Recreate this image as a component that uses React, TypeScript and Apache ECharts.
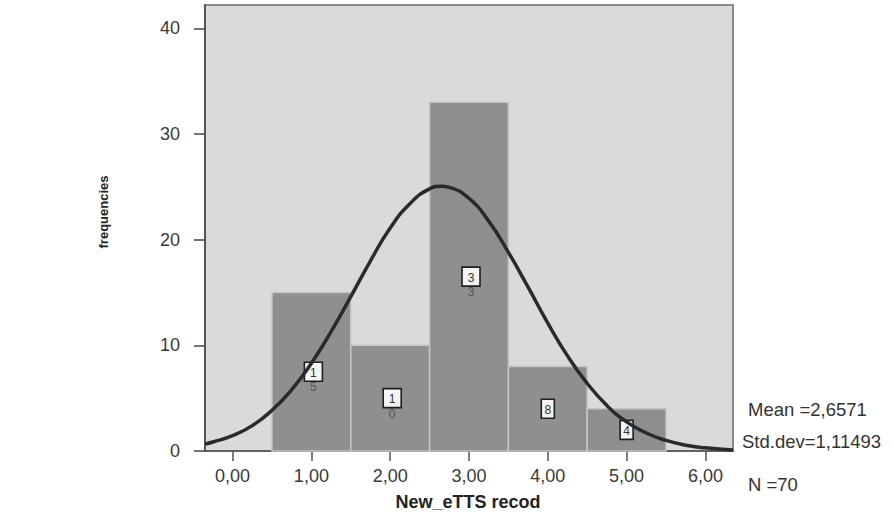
import React, { useEffect, useRef } from "react";
import * as echarts from "echarts";

const binCenters = [1, 2, 3, 4, 5];
const binCounts = [15, 10, 33, 8, 4];

const curveX = [-0.35, -0.25, 0, 0.25, 0.5, 0.75, 1, 1.25, 1.5, 1.75, 2, 2.25, 2.5, 2.65, 2.75, 3, 3.25, 3.5, 3.75, 4, 4.25, 4.5, 4.75, 5, 5.25, 5.5, 5.75, 6, 6.35];
const curveY = [0.65, 0.85, 1.45, 2.4, 3.85, 5.8, 8.3, 11.3, 14.6, 18.0, 21.1, 23.4, 24.8, 25.05, 24.95, 23.9, 21.75, 18.8, 15.5, 12.1, 9.0, 6.4, 4.3, 2.75, 1.7, 1.0, 0.55, 0.3, 0.1];

const xTicks = [0, 1, 2, 3, 4, 5, 6];
const yTicks = [0, 10, 20, 30, 40];

const statsLines = ["Mean =2,6571", "Std.dev=1,11493", "N =70"];
const xTitle = "New_eTTS recod";
const yTitle = "frequencies";

const FONT = "'Liberation Sans', Arial, sans-serif";

export default function App() {
  const ref = useRef<HTMLDivElement>(null);
  useEffect(() => {
    if (!ref.current) return;
    const chart = echarts.init(ref.current, null, { renderer: "svg" });
    const bars = binCenters.map((c, i) => [c, binCounts[i]]);
    const curve = curveX.map((x, i) => [x, curveY[i]]);
    chart.setOption({
      animation: false,
      grid: {
        left: 205,
        right: 160,
        top: 5,
        bottom: 62,
        show: true,
        backgroundColor: "#dadada",
        borderColor: "#8a8a8a",
        borderWidth: 2,
      },
      xAxis: {
        type: "value",
        min: -0.35,
        max: 6.35,
        splitLine: { show: false },
        axisLine: { show: true, onZero: false, lineStyle: { color: "#555", width: 1.5 } },
        axisTick: { show: true, length: 10, customValues: xTicks, lineStyle: { color: "#555", width: 1.5 } },
        axisLabel: {
          customValues: xTicks,
          formatter: (v: number) => v.toFixed(2).replace(".", ","),
          fontSize: 18,
          fontFamily: FONT,
          color: "#3a3a3a",
          margin: 16,
        },
      },
      yAxis: {
        type: "value",
        min: 0,
        max: 42.2,
        splitLine: { show: false },
        axisLine: { show: true, onZero: false, lineStyle: { color: "#555", width: 2 } },
        axisTick: { show: true, length: 11, customValues: yTicks, lineStyle: { color: "#444", width: 1.5 } },
        axisLabel: {
          customValues: yTicks,
          fontSize: 18,
          fontFamily: FONT,
          color: "#3a3a3a",
          margin: 25,
        },
      },
      series: [
        {
          type: "custom",
          z: 2,
          data: bars,
          renderItem: (params: any, api: any) => {
            const x = api.value(0);
            const v = api.value(1);
            const p0 = api.coord([x - 0.5, v]);
            const p1 = api.coord([x + 0.5, 0]);
            return {
              type: "rect",
              shape: { x: p0[0], y: p0[1], width: p1[0] - p0[0], height: p1[1] - p0[1] },
              style: { fill: "#8f8f8f", stroke: "#c6c6c6", lineWidth: 1.5 },
            };
          },
        },
        {
          type: "custom",
          z: 3,
          data: bars,
          renderItem: (params: any, api: any) => {
            const x = api.value(0);
            const v = api.value(1);
            const p = api.coord([x, v / 2]);
            const s = String(v);
            const first = s.charAt(0);
            const rest = s.slice(1);
            const w = rest ? 18 : 13;
            const h = 19;
            const cx = p[0] + (rest ? 2 : 0);
            const children: any[] = [
              {
                type: "rect",
                shape: { x: cx - w / 2, y: p[1] - h / 2, width: w, height: h },
                style: { fill: "#f4f4f4", stroke: "#1e1e1e", lineWidth: 1.6 },
              },
              {
                type: "text",
                x: cx,
                y: p[1] + 1,
                style: {
                  text: first,
                  fontSize: 12,
                  fontFamily: FONT,
                  fill: "#333",
                  align: "center",
                  verticalAlign: "middle",
                },
              },
            ];
            if (rest) {
              children.push({
                type: "text",
                x: cx,
                y: p[1] + h / 2 + 6,
                style: {
                  text: rest,
                  fontSize: 12,
                  fontFamily: FONT,
                  fill: "#555",
                  align: "center",
                  verticalAlign: "middle",
                },
              });
            }
            return { type: "group", children };
          },
        },
        {
          type: "line",
          z: 4,
          data: curve,
          smooth: true,
          showSymbol: false,
          symbol: "none",
          lineStyle: { color: "#2a2a2a", width: 3.5 },
        },
      ],
      graphic: [
        {
          type: "text",
          left: 748,
          top: 400,
          style: { text: statsLines[0], fontSize: 18.5, fontFamily: FONT, fill: "#333" },
        },
        {
          type: "text",
          left: 742,
          top: 432,
          style: { text: statsLines[1], fontSize: 18.5, fontFamily: FONT, fill: "#333" },
        },
        {
          type: "text",
          left: 748,
          top: 475,
          style: { text: statsLines[2], fontSize: 18.5, fontFamily: FONT, fill: "#333" },
        },
        {
          type: "text",
          x: 468,
          y: 502,
          style: {
            text: xTitle,
            fontSize: 18,
            fontWeight: "bold",
            fontFamily: FONT,
            fill: "#222",
            align: "center",
            verticalAlign: "middle",
          },
        },
        {
          type: "text",
          x: 103,
          y: 212,
          rotation: Math.PI / 2,
          style: {
            text: yTitle,
            fontSize: 13,
            fontWeight: "bold",
            fontFamily: FONT,
            fill: "#222",
            align: "center",
            verticalAlign: "middle",
          },
        },
      ],
    });
    return () => chart.dispose();
  }, []);
  return <div ref={ref} style={{ width: 893, height: 513, position: "absolute", left: 0, top: 0 }} />;
}
